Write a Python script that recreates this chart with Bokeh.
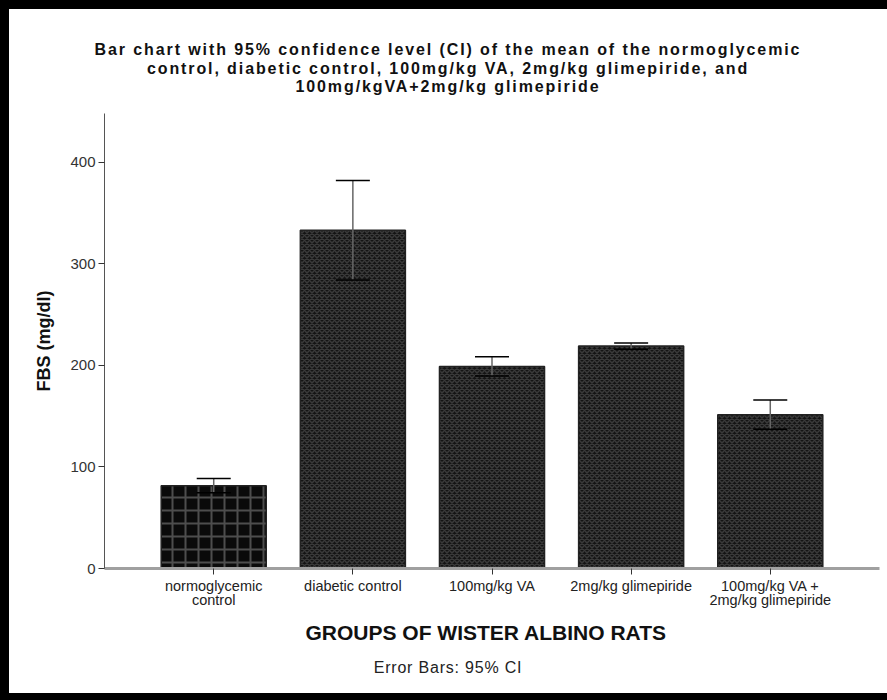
from bokeh.plotting import figure
from bokeh.models import (Range1d, FixedTicker, ColumnDataSource, Whisker, TeeHead, Div)
from bokeh.layouts import column, row
from bokeh.embed import file_html
from bokeh.resources import INLINE

# ---- data ----
groups = ["normoglycemic\ncontrol", "diabetic control", "100mg/kg VA",
          "2mg/kg glimepiride", "100mg/kg VA +\n2mg/kg glimepiride"]
mean_fbs = [81.5, 333, 199, 219, 151.5]
ci_upper = [88.5, 382, 208.5, 222, 166]
ci_lower = [74.5, 284, 189.5, 216, 137]
y_ticks = [0, 100, 200, 300, 400]
title_lines = ["Bar chart with 95% confidence level (CI) of the mean of the normoglycemic",
               "control, diabetic control, 100mg/kg VA, 2mg/kg glimepiride, and",
               "100mg/kgVA+2mg/kg glimepiride"]
x_title = "GROUPS   OF WISTER ALBINO RATS"
y_title = "FBS (mg/dl)"
footnote = "Error Bars: 95% CI"

pos = list(range(len(groups)))
src_first = ColumnDataSource(dict(x=pos[:1], top=mean_fbs[:1]))
src_rest = ColumnDataSource(dict(x=pos[1:], top=mean_fbs[1:]))
err = ColumnDataSource(dict(x=pos, upper=ci_upper, lower=ci_lower))

FONT = "Liberation Sans"

p = figure(width=878, height=550, output_backend="svg", toolbar_location=None,
           x_range=Range1d(-0.785, len(groups) - 1 + 0.785), y_range=Range1d(0, 448),
           min_border_left=95, min_border_right=8, min_border_top=13, min_border_bottom=82,
           margin=(0, 0, 0, 0))
p.title.visible = False
p.outline_line_color = None
p.grid.visible = False
p.background_fill_color = "white"
p.border_fill_color = "white"

p.vbar(x="x", top="top", width=0.755, source=src_first, fill_color="#0a0a0a",
       line_color="#222222", line_width=1.5, hatch_pattern="cross", hatch_scale=13,
       hatch_weight=2, hatch_color="#4d4d4d")
p.vbar(x="x", top="top", width=0.755, source=src_rest, fill_color="#141414",
       line_color="#222222", line_width=1.5, hatch_pattern="diagonal_cross", hatch_scale=5,
       hatch_weight=1.5, hatch_color="#3a3a3a")

w = Whisker(source=err, base="x", upper="upper", lower="lower", line_color="#666666",
            line_width=1.5, level="annotation",
            upper_head=TeeHead(size=34, line_color="black", line_width=1.5),
            lower_head=TeeHead(size=34, line_color="black", line_width=1.5))
p.add_layout(w)

# axes
xa = p.xaxis[0]
xa.ticker = FixedTicker(ticks=pos)
xa.major_label_overrides = {i: g for i, g in enumerate(groups)}
xa.axis_line_color = "#a0a0a0"
xa.axis_line_width = 3
xa.major_tick_in = 0
xa.major_tick_out = 6
xa.major_tick_line_color = "#333333"
xa.minor_tick_line_color = None
xa.major_label_text_font = FONT
xa.major_label_text_font_size = "14.5px"
xa.major_label_text_color = "#222222"
xa.major_label_text_line_height = 0.9
xa.major_label_standoff = 3
xa.axis_label = x_title
xa.axis_label_text_font = FONT
xa.axis_label_text_font_style = "bold"
xa.axis_label_text_font_size = "21px"
xa.axis_label_text_color = "#111111"
xa.axis_label_standoff = 10

ya = p.yaxis[0]
ya.ticker = FixedTicker(ticks=y_ticks)
ya.axis_line_color = "#555555"
ya.axis_line_width = 1
ya.major_tick_in = 0
ya.major_tick_out = 6
ya.major_tick_line_color = "#333333"
ya.minor_tick_line_color = None
ya.major_label_text_font = FONT
ya.major_label_text_font_size = "15px"
ya.major_label_text_color = "#333333"
ya.major_label_standoff = 3
ya.axis_label = y_title
ya.axis_label_text_font = FONT
ya.axis_label_text_font_style = "bold"
ya.axis_label_text_font_size = "18px"
ya.axis_label_text_color = "#111111"
ya.axis_label_standoff = 13

title_div = Div(text="<br>".join(title_lines), width=878, height=91, margin=(0, 0, 0, 0),
                styles={"font-family": FONT, "font-size": "16px", "font-weight": "bold",
                        "line-height": "18.5px", "letter-spacing": "1.9px",
                        "text-align": "center", "color": "#111111",
                        "padding-top": "32px", "box-sizing": "border-box"})
foot_div = Div(text=footnote, width=878, height=43, margin=(0, 0, 0, 0),
               styles={"font-family": FONT, "font-size": "16px", "line-height": "16px",
                       "letter-spacing": "0.8px", "text-align": "center",
                       "color": "#222222", "padding-top": "10px",
                       "box-sizing": "border-box"})

def bar(w_, h_):
    return Div(text="", width=w_, height=h_, margin=(0, 0, 0, 0),
               styles={"background-color": "black"})

layout = column(
    bar(887, 9),
    row(bar(9, 684), column(title_div, p, foot_div, spacing=0), spacing=0),
    bar(887, 7),
    spacing=0,
)

open("out.html", "w").write(file_html(layout, INLINE))
